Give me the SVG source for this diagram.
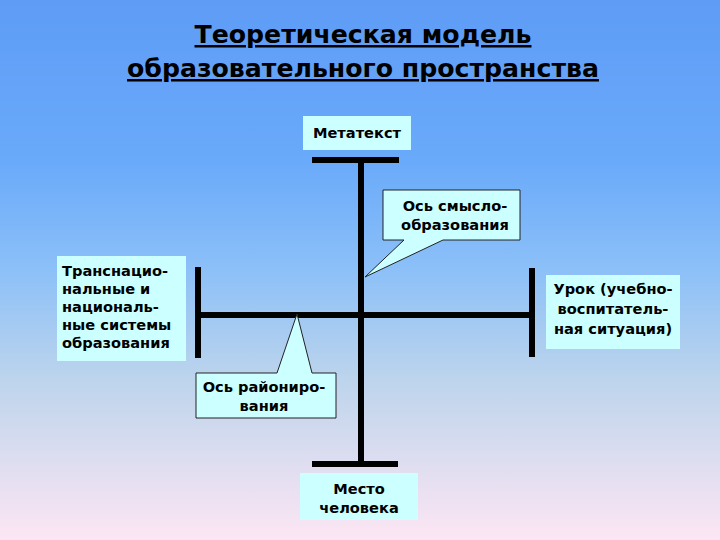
<svg xmlns="http://www.w3.org/2000/svg" width="720" height="540" viewBox="0 0 720 540">
<defs>
<linearGradient id="bg" x1="0" y1="0" x2="0" y2="1">
<stop offset="0" stop-color="#5e9cf6"/>
<stop offset="0.3" stop-color="#6aaafa"/>
<stop offset="0.5" stop-color="#8cc0f8"/>
<stop offset="0.7" stop-color="#bcd4ec"/>
<stop offset="1" stop-color="#fde6f4"/>
</linearGradient>
<style>
.box{fill:#ccffff;}
.call{fill:#ccffff;stroke:#222;stroke-width:1;}
.t{font-family:"DejaVu Sans",Verdana,sans-serif;font-weight:bold;font-size:14.6px;fill:#000;}
.c{text-anchor:middle;}
.title{font-family:"DejaVu Sans",Verdana,sans-serif;font-weight:bold;font-size:25.2px;fill:#000;text-anchor:middle;text-decoration:underline;}
.bar{fill:#000;}
</style>
</defs>
<rect width="720" height="540" fill="url(#bg)"/>
<g id="title">
<text class="title" x="363" y="43">Теоретическая модель</text>
<text class="title" x="363" y="77">образовательного пространства</text>
</g>
<g id="connectors">
<rect class="bar" x="312" y="157" width="87" height="6"/>
<rect class="bar" x="358" y="157" width="6" height="310"/>
<rect class="bar" x="312" y="461" width="86" height="6"/>
<rect class="bar" x="197" y="312" width="338" height="6"/>
<rect class="bar" x="195" y="267" width="6" height="91"/>
<rect class="bar" x="529" y="268" width="6" height="89"/>
</g>
<g id="metatext">
<rect class="box" x="303" y="116" width="108" height="34"/>
<text class="t c" x="357" y="138">Метатекст</text>
</g>
<g id="place">
<rect class="box" x="300" y="473" width="118" height="47"/>
<text class="t c" x="359" y="494">Место</text>
<text class="t c" x="359" y="513">человека</text>
</g>
<g id="transnational">
<rect class="box" x="57" y="256" width="129" height="105"/>
<text class="t" x="62" y="276">Транснацио-</text>
<text class="t" x="62" y="294">нальные и</text>
<text class="t" x="62" y="312">националь-</text>
<text class="t" x="62" y="330">ные системы</text>
<text class="t" x="62" y="348">образования</text>
</g>
<g id="lesson">
<rect class="box" x="546" y="275" width="134" height="74"/>
<text class="t c" x="613" y="294">Урок (учебно-</text>
<text class="t c" x="613" y="314">воспитатель-</text>
<text class="t c" x="613" y="334">ная ситуация)</text>
</g>
<g id="meaning-axis">
<path class="call" d="M383,190 H520 V240 H443 L365,277 L404,240 H383 Z"/>
<text class="t c" x="455" y="211">Ось смысло-</text>
<text class="t c" x="455" y="230">образования</text>
</g>
<g id="zoning-axis">
<path class="call" d="M196,373 H277 L297,314 L312,373 H336 V418 H196 Z"/>
<text class="t c" x="264" y="392">Ось райониро-</text>
<text class="t c" x="264" y="411">вания</text>
</g>
</svg>
